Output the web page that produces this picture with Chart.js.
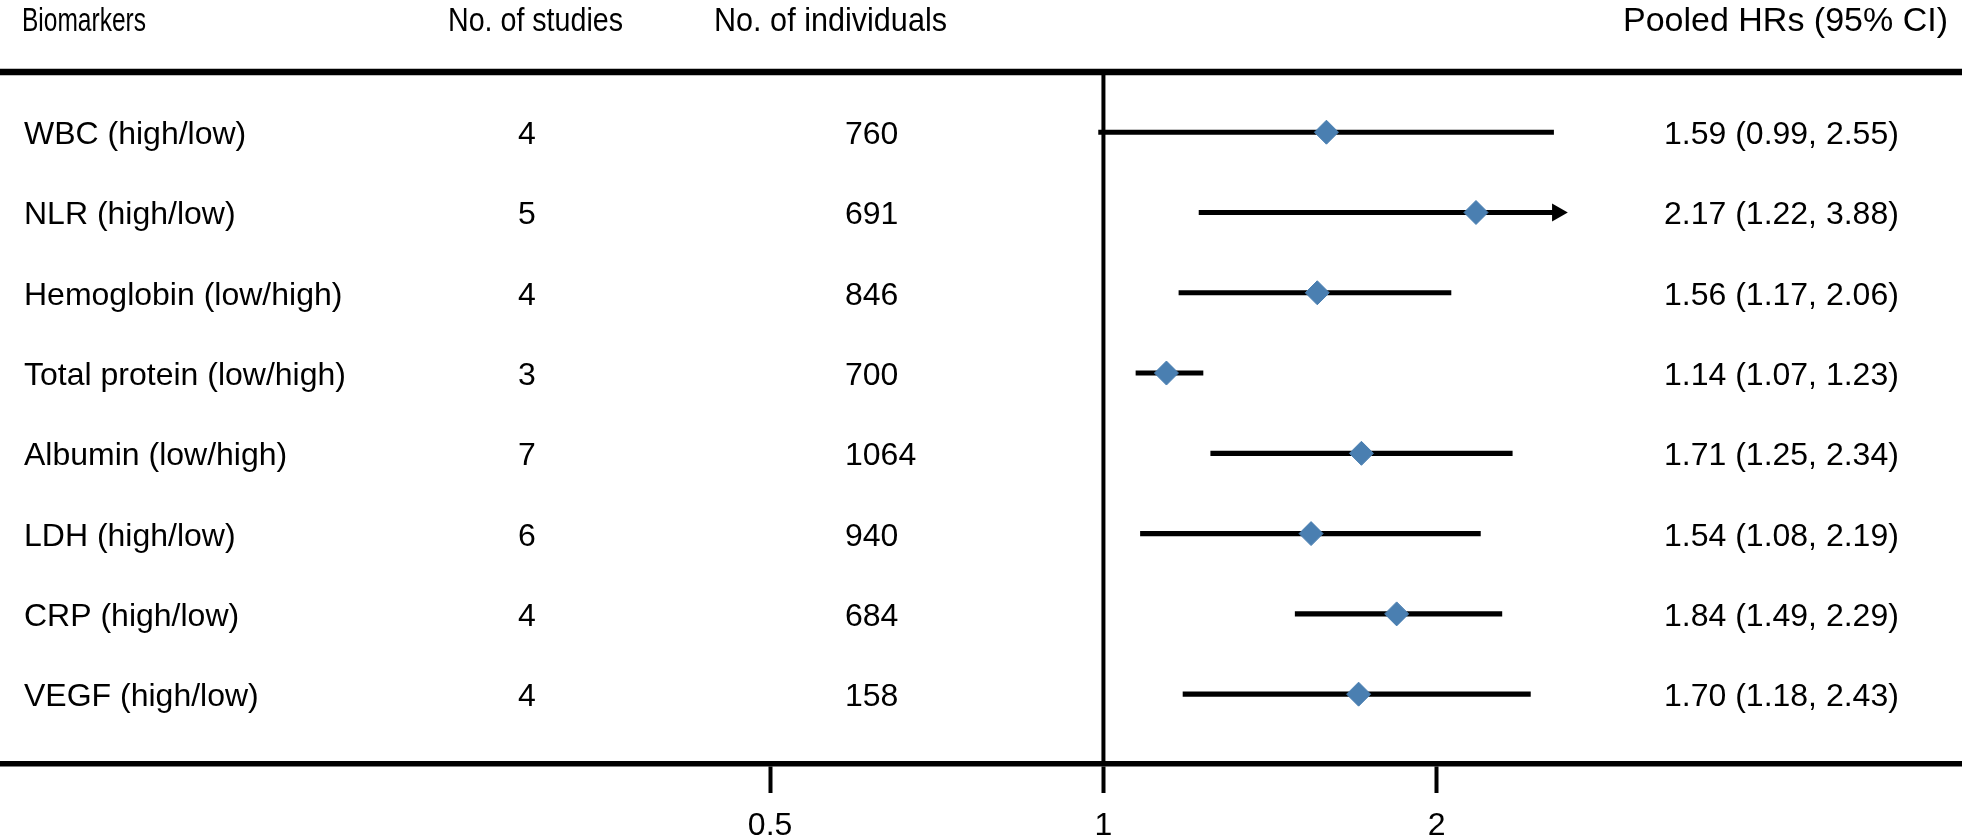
<!DOCTYPE html>
<html>
<head>
<meta charset="utf-8">
<title>Pooled HRs of biomarkers</title>
<script src="https://cdn.jsdelivr.net/npm/chart.js@4.4.1/dist/chart.umd.min.js"></script>
<style>
  html, body { margin: 0; padding: 0; background: #fff; }
</style>
</head>
<body>
<canvas id="forestChart" width="1962" height="840"></canvas>
<script>
// forest plot data
const biomarkers = [
    "WBC (high/low)",
    "NLR (high/low)",
    "Hemoglobin (low/high)",
    "Total protein (low/high)",
    "Albumin (low/high)",
    "LDH (high/low)",
    "CRP (high/low)",
    "VEGF (high/low)"
];
const nStudies = [4, 5, 4, 3, 7, 6, 4, 4];
const nIndividuals = [760, 691, 846, 700, 1064, 940, 684, 158];
const hr = [1.59, 2.17, 1.56, 1.14, 1.71, 1.54, 1.84, 1.70];
const ciLow = [0.99, 1.22, 1.17, 1.07, 1.25, 1.08, 1.49, 1.18];
const ciHigh = [2.55, 3.88, 2.06, 1.23, 2.34, 2.19, 2.29, 2.43];
const xTicks = [0.5, 1, 2];
const headers = ["Biomarkers", "No. of studies", "No. of individuals", "Pooled HRs (95% CI)"];

const refValue = 1;      // line of no effect
const arrowAt = 2.57;    // CIs running past this get cut and end in an arrow

const FONT = '"Liberation Sans", Arial, Helvetica, sans-serif';
const rows = biomarkers.map((_, i) => i);

const fmt = v => v.toFixed(2);

// header boxes (left, width) - the header text boxes were stretched unevenly in the original
const headerBoxes = [[22, 124], [448, 175], [714, 233], [1623, 325]];

function headerText(ctx, txt, box, y) {
    const w = ctx.measureText(txt).width;
    const sx = box[1] / w;
    ctx.save();
    ctx.textAlign = "left";
    ctx.scale(sx, 1);
    ctx.fillText(txt, box[0] / sx, y);
    ctx.restore();
}

// rules + the text columns
const forestText = {
    id: "forestText",
    beforeDatasetsDraw(chart) {
        const { ctx, chartArea, scales: { x } } = chart;
        ctx.save();
        ctx.strokeStyle = "#000";
        ctx.lineWidth = 6.5;
        ctx.beginPath();
        ctx.moveTo(0, chartArea.top);
        ctx.lineTo(chart.width, chartArea.top);
        ctx.stroke();

        const px = x.getPixelForValue(refValue);
        ctx.lineWidth = 4;
        ctx.beginPath();
        ctx.moveTo(px, chartArea.top);
        ctx.lineTo(px, chartArea.bottom);
        ctx.stroke();
        ctx.restore();
    },
    afterDraw(chart) {
        const { ctx, scales: { y } } = chart;
        ctx.save();
        ctx.fillStyle = "#000";
        ctx.textBaseline = "alphabetic";

        ctx.font = "33px " + FONT;
        headers.forEach((h, k) => headerText(ctx, h, headerBoxes[k], 31));

        ctx.font = "32px " + FONT;
        rows.forEach(i => {
            const yy = y.getPixelForValue(i) + 12;
            ctx.textAlign = "left";
            ctx.fillText(biomarkers[i], 24, yy);
            ctx.fillText(String(nIndividuals[i]), 845, yy);
            ctx.fillText(`${fmt(hr[i])} (${fmt(ciLow[i])}, ${fmt(ciHigh[i])})`, 1664, yy);
            ctx.textAlign = "center";
            ctx.fillText(String(nStudies[i]), 527, yy);
        });
        ctx.restore();
    }
};

const ctx = document.getElementById("forestChart").getContext("2d");

new Chart(ctx, {
    type: "bar",
    data: {
        datasets: [
            {
                // confidence intervals as thin floating bars
                type: "bar",
                indexAxis: "y",
                data: rows.map(i => ({ x: [ciLow[i], Math.min(ciHigh[i], arrowAt)], y: i })),
                backgroundColor: "#000",
                borderWidth: 0,
                barThickness: 4.5,
                order: 3
            },
            {
                type: "scatter",
                data: rows.filter(i => ciHigh[i] > arrowAt).map(i => ({ x: arrowAt, y: i })),
                pointStyle: "triangle",
                rotation: 90,
                pointRadius: 10.5,
                backgroundColor: "#000",
                borderColor: "#000",
                borderWidth: 0,
                order: 2
            },
            {
                type: "scatter",
                data: rows.map(i => ({ x: hr[i], y: i })),
                pointStyle: "rectRot",
                pointRadius: 12,
                backgroundColor: "#4a7fb1",
                borderColor: "#4a7fb1",
                borderWidth: 1,
                order: 1
            }
        ]
    },
    options: {
        responsive: false,
        animation: false,
        indexAxis: "y",
        layout: { autoPadding: false, padding: { top: 72, left: 0, right: 0, bottom: 0 } },
        plugins: {
            legend: { display: false },
            tooltip: { enabled: false }
        },
        scales: {
            x: {
                type: "logarithmic",
                position: "bottom",
                min: 0.1008,
                max: 5.962,
                offset: false,
                afterBuildTicks: s => { s.ticks = xTicks.map(v => ({ value: v })); },
                afterFit: s => { s.height = 76; },
                grid: {
                    drawOnChartArea: false,
                    drawTicks: true,
                    tickLength: 29,
                    tickWidth: 4,
                    tickColor: "#000"
                },
                border: { display: true, color: "#000", width: 5.5 },
                ticks: {
                    color: "#000",
                    font: { family: FONT, size: 32 },
                    padding: 14,
                    maxRotation: 0,
                    autoSkip: false,
                    callback: v => String(v)
                }
            },
            y: {
                type: "linear",
                display: false,
                reverse: true,
                offset: false,
                min: -0.75,
                max: 7.87
            }
        }
    },
    plugins: [forestText]
});
</script>
</body>
</html>
